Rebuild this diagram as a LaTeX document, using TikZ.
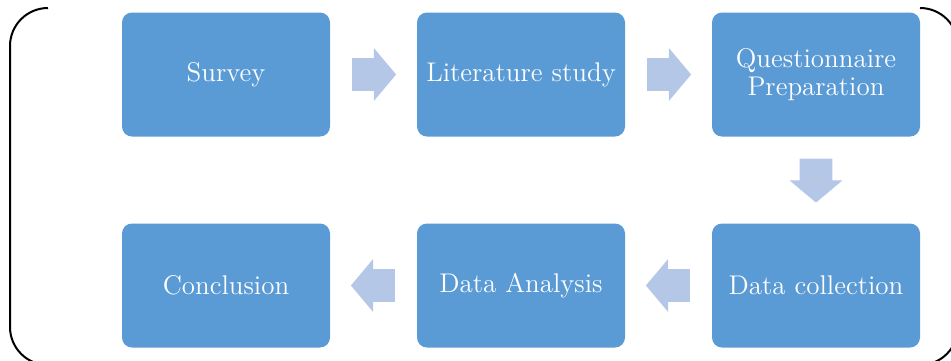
\documentclass[tikz,border=0pt]{standalone}
\usepackage{tikz}
\usetikzlibrary{matrix, shapes.arrows}
\definecolor{boxblue}{HTML}{5B9BD5}
\definecolor{arrowblue}{HTML}{B4C7E7}
\tikzset{
  stage/.style={rectangle, rounded corners=5pt, fill=boxblue, text=white,
    text width=96pt, inner sep=4pt, minimum height=62pt, align=center,
    anchor=center, font=\fontsize{13.5}{14}\selectfont},
  flowarrow/.style={single arrow, fill=arrowblue, draw=none,
    inner xsep=0pt, inner ysep=8pt,
    minimum height=22pt, minimum width=26pt, single arrow head extend=5pt,
    single arrow tip angle=100, anchor=tail, pos=0.247},
  bracket/.style={line width=1pt, rounded corners=19pt}
}

\begin{document}
\begin{tikzpicture}
\useasboundingbox (0,0) rectangle (475.5pt,-180pt);
% side brackets
\draw[bracket] (24pt,-4pt) -- (5pt,-4pt) -- (5pt,-182.5pt) -- (24pt,-182.5pt);
\draw[bracket] (460pt,-4pt) -- (479pt,-4pt) -- (479pt,-182.5pt) -- (460pt,-182.5pt);
\matrix (m) at (260.5pt,-90pt) [matrix of nodes, nodes={stage}, row sep=43.5pt, column sep=43.5pt]
{%
    Survey & Literature study & Questionnaire Preparation \\
    Conclusion & Data Analysis & Data collection \\
};
\path
(m-1-1.east) -- node [flowarrow] {} (m-1-2.west)
(m-1-2.east) -- node [flowarrow] {} (m-1-3.west)
(m-1-3.south) -- node [flowarrow, rotate=-90] {} (m-2-3.north)
(m-2-3.west) -- node [flowarrow, rotate=180] {} (m-2-2.east)
(m-2-2.west) -- node [flowarrow, rotate=180] {} (m-2-1.east);
\end{tikzpicture}
\end{document}
